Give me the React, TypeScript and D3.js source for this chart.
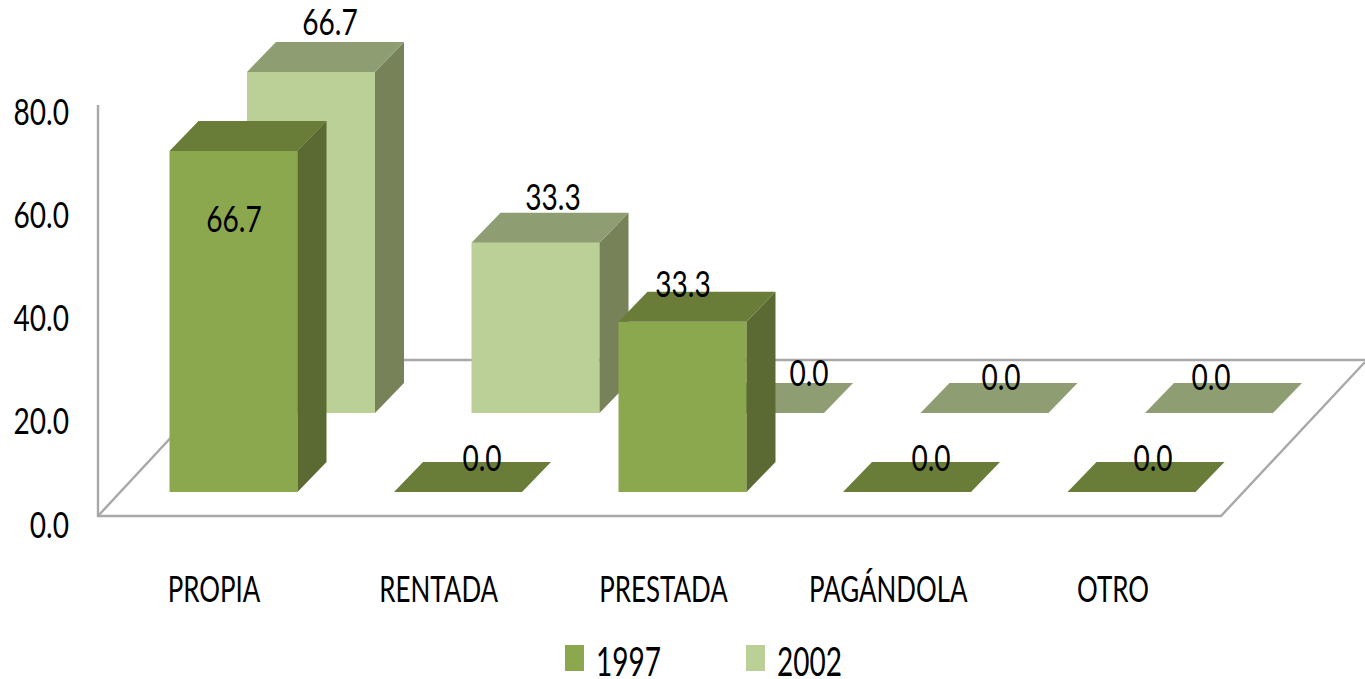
import React from "react";
import * as d3 from "d3";

const categories = ["PROPIA", "RENTADA", "PRESTADA", "PAGÁNDOLA", "OTRO"];
const values1997 = [66.7, 0.0, 33.3, 0.0, 0.0];
const values2002 = [66.7, 33.3, 0.0, 0.0, 0.0];
const yTicks = [0, 20, 40, 60, 80];
const seriesNames = ["1997", "2002"];

const FONT = "Lato, Carlito, 'Open Sans', sans-serif";
const WIDTH = 1365, HEIGHT = 679;
const barW = 128, depthX = 29, depthY = 30;

const heightScale = d3.scaleLinear().domain([0, 80]).range([0, 409]);
const frontX = d3.scaleLinear().domain([0, 4]).range([169.5, 1067.5]);
const tickY = d3.scaleLinear().domain([0, 80]).range([537.5, 124.5]);
const catX = d3.scaleLinear().domain([0, 4]).range([214, 1113]);

const palette = {
  s1997: { front: "#8CA850", side: "#5A6B30", top: "#697C38" },
  s2002: { front: "#BAD097", side: "#788259", top: "#8F9E72" },
};

const poly = (pts: number[][]) => pts.map((p) => p.join(",")).join(" ");

function Txt({ x, y, size = 36, sx = 0.78, anchor = "middle", children }: any) {
  return (
    <text
      transform={`translate(${x},${y}) scale(${sx},1)`}
      textAnchor={anchor}
      fontFamily={FONT}
      fontSize={size}
      fill="#000"
    >
      {children}
    </text>
  );
}

function Bar({ x, base, value, c }: any) {
  const h = heightScale(value);
  const t = base - h;
  const r = x + barW;
  return (
    <g>
      {h > 0 && <rect x={x} y={t} width={barW} height={h} fill={c.front} />}
      {h > 0 && (
        <polygon
          points={poly([[r, t], [r + depthX, t - depthY], [r + depthX, base - depthY], [r, base]])}
          fill={c.side}
        />
      )}
      <polygon
        points={poly([[x, t], [x + depthX, t - depthY], [r + depthX, t - depthY], [r, t]])}
        fill={c.top}
      />
    </g>
  );
}

// Label centre and baseline, per category
const labelAt1997 = [[234, 232], [482, 471], [683, 297], [931, 471], [1153, 471]];
const labelAt2002 = [[330, 35], [553, 210], [809, 386], [1001, 390], [1211, 390]];

export default function App() {
  const x2002 = (i: number) => frontX(i) + 77.5;
  return (
    <svg
      width={WIDTH}
      height={HEIGHT}
      style={{ position: "absolute", left: 0, top: 0, background: "#fff" }}
    >
      <defs>
        <filter id="soft" x="-5%" y="-5%" width="110%" height="110%">
          <feGaussianBlur stdDeviation="0.6" />
        </filter>
      </defs>
      <g filter="url(#soft)">
        <g fill="none" stroke="#a8a8a8" strokeWidth={2.4}>
          <polyline points={poly([[98, 105], [98, 516], [1221, 516], [1365, 362]])} />
          <line x1={98} y1={516} x2={243} y2={360} />
          <line x1={243} y1={360} x2={1365} y2={360} />
        </g>
        {values2002.map((v, i) => (
          <Bar key={i} x={x2002(i)} base={413} value={v} c={palette.s2002} />
        ))}
        {values1997.map((v, i) => (
          <Bar key={i} x={frontX(i)} base={492} value={v} c={palette.s1997} />
        ))}
        <rect x={565} y={645} width={19} height={26} fill={palette.s1997.front} />
        <rect x={746} y={645} width={19} height={26} fill={palette.s2002.front} />
      </g>
      <g>
        {yTicks.map((t) => (
          <Txt key={t} x={69} y={tickY(t)} anchor="end">{d3.format(".1f")(t)}</Txt>
        ))}
        {categories.map((c, i) => (
          <Txt key={c} x={catX(i)} y={602} sx={0.72}>{c}</Txt>
        ))}
        {values1997.map((v, i) => (
          <Txt key={i} x={labelAt1997[i][0]} y={labelAt1997[i][1]}>{v.toFixed(1)}</Txt>
        ))}
        {values2002.map((v, i) => (
          <Txt key={i} x={labelAt2002[i][0]} y={labelAt2002[i][1]}>{v.toFixed(1)}</Txt>
        ))}
        <Txt x={596} y={676} size={40} sx={0.7} anchor="start">{seriesNames[0]}</Txt>
        <Txt x={777} y={676} size={40} sx={0.7} anchor="start">{seriesNames[1]}</Txt>
      </g>
    </svg>
  );
}
